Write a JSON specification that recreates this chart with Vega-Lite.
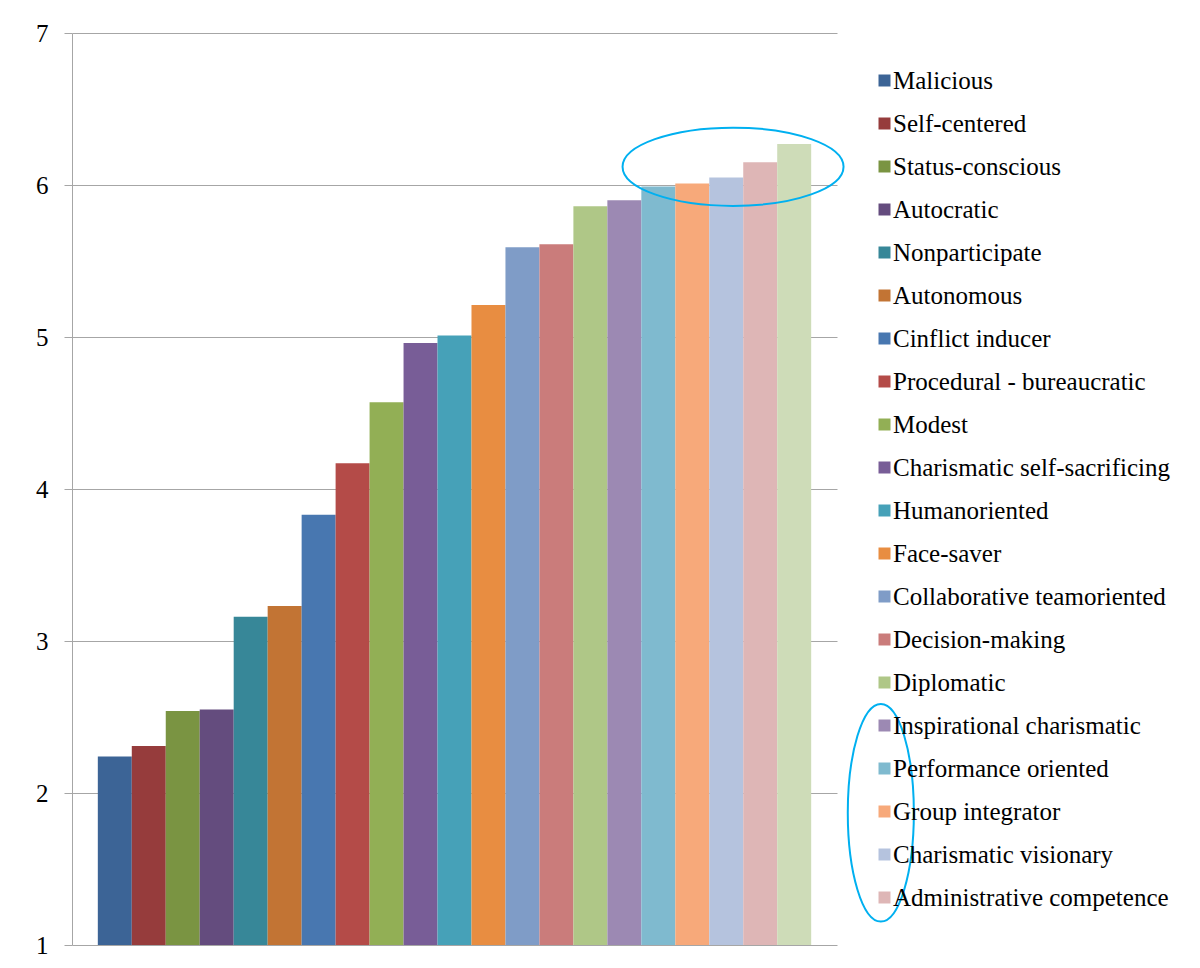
{
  "$schema": "https://vega.github.io/schema/vega-lite/v6.json",
  "autosize": {"type": "none"},
  "padding": {"left": 72, "top": 33, "right": 363, "bottom": 23},
  "width": 765,
  "height": 912,
  "background": "white",
  "config": {"view": {"stroke": null}, "font": "Liberation Serif, Times New Roman, serif"},
  "datasets": {
    "bars": [
      {"trait": "Malicious", "score": 2.24},
      {"trait": "Self-centered", "score": 2.31},
      {"trait": "Status-conscious", "score": 2.54},
      {"trait": "Autocratic", "score": 2.55},
      {"trait": "Nonparticipate", "score": 3.16},
      {"trait": "Autonomous", "score": 3.23},
      {"trait": "Cinflict inducer", "score": 3.83},
      {"trait": "Procedural - bureaucratic", "score": 4.17},
      {"trait": "Modest", "score": 4.57},
      {"trait": "Charismatic self-sacrificing", "score": 4.96},
      {"trait": "Humanoriented", "score": 5.01},
      {"trait": "Face-saver", "score": 5.21},
      {"trait": "Collaborative teamoriented", "score": 5.59},
      {"trait": "Decision-making", "score": 5.61},
      {"trait": "Diplomatic", "score": 5.86},
      {"trait": "Inspirational charismatic", "score": 5.90},
      {"trait": "Performance oriented", "score": 5.99},
      {"trait": "\u00a0Group integrator", "score": 6.01},
      {"trait": "Charismatic visionary", "score": 6.05},
      {"trait": "Administrative competence", "score": 6.15},
      {"trait": "Integrity", "score": 6.27}
    ],
    "marks": [
      {"kind": "top", "pos": 18.7, "score": 6.12},
      {"kind": "legend", "pos": 23.05, "score": 1.87}
    ]
  },
  "layer": [
    {
      "data": {"name": "bars"},
      "mark": {"type": "bar", "stroke": null},
      "encoding": {
        "x": {
          "field": "trait",
          "type": "nominal",
          "sort": null,
          "axis": null,
          "scale": {"paddingInner": 0, "paddingOuter": 0.76}
        },
        "y": {
          "field": "score",
          "type": "quantitative",
          "scale": {"domain": [1, 7], "zero": false, "nice": false},
          "axis": {
            "title": null,
            "values": [1, 2, 3, 4, 5, 6, 7],
            "format": "d",
            "grid": true,
            "gridColor": "#a6a6a6",
            "gridWidth": 1,
            "domainColor": "#a6a6a6",
            "domainWidth": 1,
            "tickColor": "#a6a6a6",
            "tickSize": 8,
            "labelPadding": 16,
            "labelFont": "Liberation Serif, Times New Roman, serif",
            "labelFontSize": 25,
            "labelColor": "#000000"
          }
        },
        "y2": {"datum": 1},
        "color": {
          "field": "trait",
          "type": "nominal",
          "sort": null,
          "scale": {
            "domain": ["Malicious", "Self-centered", "Status-conscious", "Autocratic", "Nonparticipate", "Autonomous", "Cinflict inducer", "Procedural - bureaucratic", "Modest", "Charismatic self-sacrificing", "Humanoriented", "Face-saver", "Collaborative teamoriented", "Decision-making", "Diplomatic", "Inspirational charismatic", "Performance oriented", "\u00a0Group integrator", "Charismatic visionary", "Administrative competence", "Integrity"],
            "range": ["#3c6496", "#963c3c", "#7a9442", "#644c7e", "#378798", "#c27434", "#4877b0", "#b44b48", "#92af55", "#785d97", "#46a1b8", "#e88d41", "#7f9cc7", "#ca7c7b", "#afc787", "#9c89b3", "#7fbacf", "#f7a97a", "#b5c3de", "#deb6b6", "#cedcb8"]
          },
          "legend": {
            "orient": "none",
            "legendX": 800,
            "legendY": 35,
            "title": null,
            "padding": 0,
            "values": ["Malicious", "Self-centered", "Status-conscious", "Autocratic", "Nonparticipate", "Autonomous", "Cinflict inducer", "Procedural - bureaucratic", "Modest", "Charismatic self-sacrificing", "Humanoriented", "Face-saver", "Collaborative teamoriented", "Decision-making", "Diplomatic", "Inspirational charismatic", "Performance oriented", "\u00a0Group integrator", "Charismatic visionary", "Administrative competence"],
            "symbolType": "square",
            "symbolSize": 144,
            "symbolStrokeWidth": 0,
            "labelFont": "Liberation Serif, Times New Roman, serif",
            "labelFontSize": 25,
            "labelColor": "#000000",
            "labelOffset": -4,
            "labelLimit": 400,
            "rowPadding": 17,
            "columns": 1
          }
        }
      }
    },
    {
      "data": {"name": "marks"},
      "mark": {"type": "point", "filled": false, "stroke": "#00b0f0", "strokeWidth": 2, "opacity": 1, "size": 48841, "clip": false},
      "encoding": {
        "x": {
          "field": "pos",
          "type": "quantitative",
          "axis": null,
          "scale": {"domain": [-0.76, 21.76], "zero": false, "nice": false}
        },
        "y": {"field": "score", "type": "quantitative"},
        "shape": {
          "field": "kind",
          "type": "nominal",
          "legend": null,
          "scale": {
            "domain": ["top", "legend"],
            "range": [
              "M-1,0C-1,-0.1955,-0.5523,-0.354,0,-0.354C0.5523,-0.354,1,-0.1955,1,0C1,0.1955,0.5523,0.354,0,0.354C-0.5523,0.354,-1,0.1955,-1,0Z",
              "M-0.299,0C-0.299,-0.544,-0.1651,-0.985,0,-0.985C0.1651,-0.985,0.299,-0.544,0.299,0C0.299,0.544,0.1651,0.985,0,0.985C-0.1651,0.985,-0.299,0.544,-0.299,0Z"
            ]
          }
        }
      }
    }
  ],
  "resolve": {"scale": {"x": "independent", "color": "independent", "shape": "independent"}}
}
